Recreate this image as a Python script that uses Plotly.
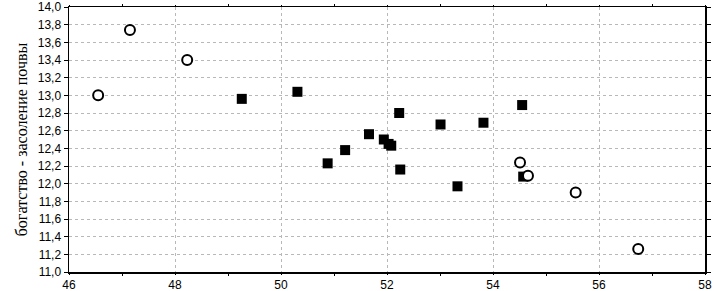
import plotly.graph_objects as go

circle_x = [46.55, 47.15, 48.23, 54.51, 54.66, 55.56, 56.74]
circle_y = [13.00, 13.74, 13.40, 12.24, 12.09, 11.90, 11.26]

square_x = [49.26, 50.31, 50.88, 51.21, 51.66, 51.94, 52.03, 52.08, 52.23, 52.25,
            53.01, 53.33, 53.82, 54.55, 54.57]
square_y = [12.96, 13.04, 12.23, 12.38, 12.56, 12.50, 12.45, 12.43, 12.80, 12.16,
            12.67, 11.97, 12.69, 12.89, 12.08]

y_title = "богатство - засоление почвы"

fig = go.Figure()
fig.add_trace(go.Scatter(
    x=square_x, y=square_y, mode="markers",
    marker=dict(symbol="square", size=10, color="black", line=dict(width=0)),
    showlegend=False))
fig.add_trace(go.Scatter(
    x=circle_x, y=circle_y, mode="markers",
    marker=dict(symbol="circle", size=10, color="white", line=dict(width=2, color="black")),
    showlegend=False))

axis_common = dict(
    showline=True, linecolor="black", linewidth=1.5, mirror="ticks",
    showgrid=True, gridcolor="#b8b8b8", griddash="dot", gridwidth=1,
    zeroline=False, ticks="outside", tickcolor="black", automargin=False,
    tickfont=dict(family="Liberation Sans", size=12, color="black"),
)

fig.update_layout(
    width=714, height=291,
    margin=dict(l=69, r=9, t=7, b=19),
    paper_bgcolor="white", plot_bgcolor="white",
    separators=", ",
    xaxis=dict(range=[46, 58], dtick=2, tick0=46, ticklen=1,
               minor=dict(dtick=1, ticks="outside", ticklen=2, tickcolor="black", showgrid=False),
               **axis_common),
    yaxis=dict(range=[11.0, 14.0], dtick=0.2, tick0=11.0, tickformat=".1f", ticklen=4,
               title=dict(text=y_title, font=dict(family="Liberation Serif", size=16, color="black"),
                          standoff=6),
               **axis_common),
)

fig.write_html("out.html",
               config={"displayModeBar": False, "staticPlot": True},
               post_script="document.body.style.margin='0';document.body.style.overflow='hidden';")
